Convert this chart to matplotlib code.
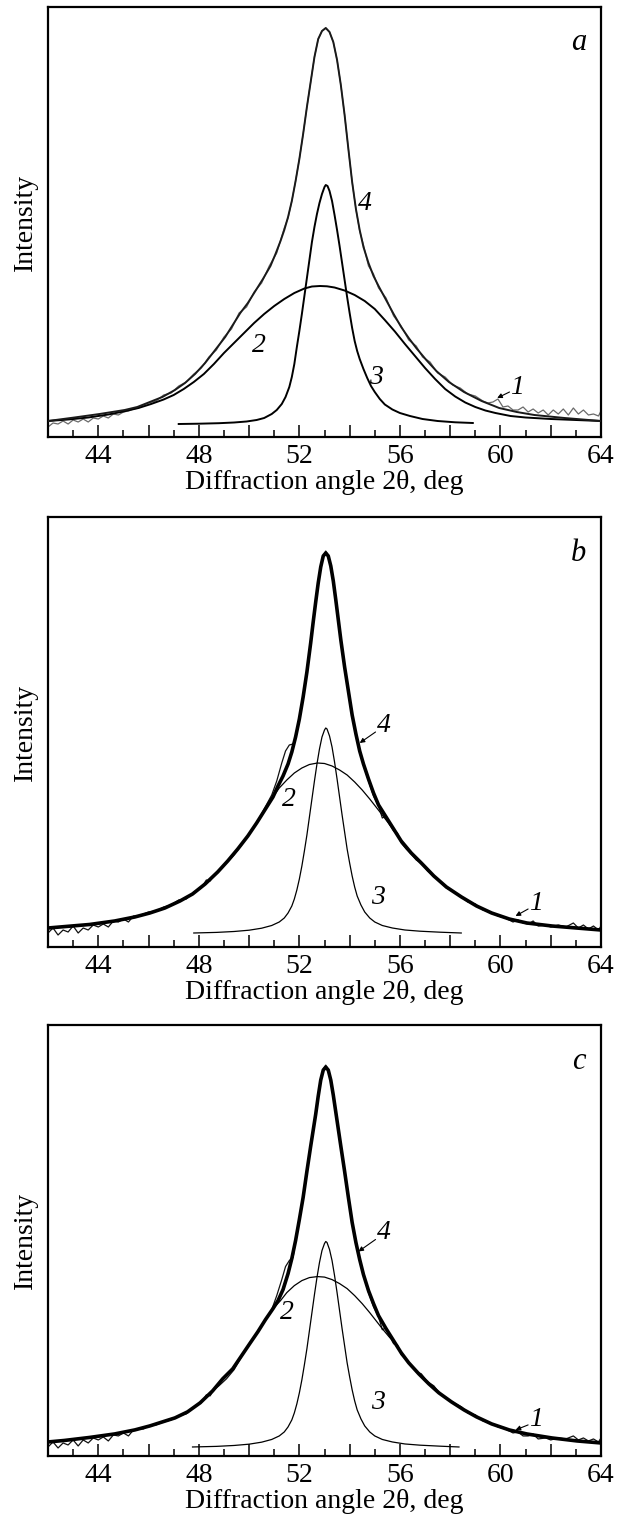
import matplotlib
matplotlib.use("Agg")
import matplotlib.pyplot as plt
from matplotlib.ticker import MultipleLocator, FuncFormatter

plt.rcParams['font.family'] = ['Liberation Serif', 'DejaVu Serif']

# ---------------- Panel a ----------------
a_x4 = [42.0,43.05,44.05,45.05,45.55,46.05,46.55,47.05,47.45,47.85,48.25,48.65,49.05,49.35,49.65,49.95,
        50.25,50.55,50.85,51.05,51.25,51.4,51.55,51.7,51.85,52.0,52.15,52.3,52.45,52.6,52.75,52.9,53.05,
        53.2,53.35,53.5,53.65,53.8,53.95,54.1,54.25,54.4,54.55,54.75,54.95,55.15,55.45,55.75,56.05,56.35,
        56.65,57.05,57.45,57.95,58.55,59.25,59.95,60.65,61.35,62.55,64.0]
a_y4 = [16,19.5,23,27,30,35,40,47,54,63,74,87,100,112,124,134,
        146,158,171,183,196,207,220,236,256,278,303,330,355,380,398,406,409,
        405,395,377,352,322,288,255,228,207,190,174,161,151,137,123,110,99,
        89,77,66,55,45,36,29,25,22,19,16]

a_x1 = [42.0,42.2,42.4,42.6,42.8,43.0,43.2,43.4,43.6,43.8,44.0,44.2,44.4,44.6,44.8,45.0,45.2,45.4,45.6,45.8,
        46.0,46.3,46.6,46.9,47.2,47.5,47.8,48.1,48.4,48.7,49.0,49.3,49.6,49.9,50.2,50.5,50.8,51.1,51.4,51.55,
        51.7,51.85,52.0,52.15,52.3,52.45,52.6,52.75,52.9,53.05,53.2,53.35,53.5,53.65,53.8,53.95,54.1,54.25,
        54.4,54.55,54.75,54.95,55.15,55.45,55.75,56.05,56.35,56.65,56.9,57.2,57.5,57.8,58.1,58.4,58.7,59.0,
        59.3,59.5,59.7,59.9,60.1,60.3,60.5,60.7,60.9,61.1,61.3,61.5,61.7,61.9,62.1,62.3,62.5,62.7,62.9,63.1,
        63.3,63.5,63.7,63.9,64.0]
a_y1 = [10,14,13,16,13,17,15,18,15,19,18,21,19,23,22,25,26,28,29,32,
        34,36,42,44,51,55,63,69,80,87,100,108,124,130,145,154,171,184,209,219,
        236,256,278,303,330,355,380,398,406,409,405,395,377,352,322,288,255,228,
        206,192,171,163,149,139,121,111,97,91,80,75,64,60,52,49,43,41,
        36,34,35,38,30,31,27,27,30,25,28,24,27,22,27,23,28,22,29,23,
        27,22,23,21,26]

a_x2 = [42.0,42.8,43.6,44.4,45.0,45.6,46.1,46.6,47.0,47.4,47.8,48.2,48.6,49.0,49.4,49.8,50.2,50.6,51.0,
        51.4,51.8,52.2,52.5,52.82,53.1,53.4,53.8,54.2,54.6,55.0,55.4,55.8,56.2,56.6,57.0,57.4,57.8,58.2,
        58.6,59.0,59.4,59.8,60.4,61.0,62.0,63.0,64.0]
a_y2 = [16,17.5,19.5,22.5,25.5,29,33,37.5,42,48,55,63,73,84,94,104,114,123,131,
        138,144,148.5,150.5,151,150.7,149.5,146.5,142,136,128,117,105.5,93,81,69,58,48,40.5,
        34.5,30,26.5,24,21,19.5,18,17,16]

a_x3 = [47.2,48.0,48.8,49.4,49.9,50.3,50.6,50.9,51.1,51.3,51.45,51.6,51.7,51.8,51.9,52.0,52.1,52.2,52.3,
        52.4,52.5,52.6,52.7,52.8,52.9,53.0,53.05,53.12,53.2,53.3,53.4,53.5,53.6,53.7,53.8,53.9,54.0,54.1,
        54.2,54.3,54.4,54.55,54.7,54.85,55.0,55.2,55.4,55.7,56.0,56.4,56.9,57.5,58.2,58.9]
a_y3 = [13,13.3,13.8,14.5,15.5,17,19,23,27,33,40,50,60,73,90,106,123,141,159,
        177,195,210,223,234,243,250,252,251,246,236,222,207,191,174,157,140,124,109,
        96,86,78,68,59,51,45,38,32.5,27.5,24,21,18,16,14.7,14]

# ---------------- Panel b ----------------
b_x4 = [42.0,43.65,44.65,45.45,46.05,46.65,47.25,47.75,48.25,48.75,49.15,49.55,49.95,50.3,50.65,50.95,
        51.15,51.35,51.55,51.7,51.85,52.0,52.15,52.3,52.45,52.55,52.65,52.75,52.85,52.95,53.05,
        53.15,53.25,53.35,53.45,53.55,53.65,53.8,53.95,54.1,54.25,54.4,54.55,54.75,54.95,55.15,55.45,
        55.75,56.05,56.45,56.85,57.35,57.85,58.45,59.05,59.65,60.35,61.05,62.05,64.0]
b_y4 = [19,22.5,26,30,34,39,46,53,63,75,86,98,111,124,138,150,
        161,171,183,195,210,228,250,275,304,325,345,364,380,391,394,
        391,381,366,347,327,307,280,256,232,213,196,183,168,154,142,130,
        118,106,94,84,71,60,50,41,34,28,24,21,17]

b_x1 = [42.0,42.2,42.4,42.6,42.8,43.0,43.2,43.4,43.6,43.8,44.0,44.2,44.4,44.6,44.8,45.0,45.2,45.4,45.6,45.8,
        46.0,46.3,46.6,46.9,47.2,47.5,47.8,48.1,48.3,48.45,48.6,48.8,49.1,49.4,49.7,50.0,50.3,50.6,50.9,51.1,
        51.3,51.45,51.6,51.75,51.85,52.0,52.15,52.3,52.45,52.55,52.65,52.75,52.85,52.95,53.05,53.15,53.25,
        53.35,53.45,53.55,53.65,53.8,53.95,54.1,54.25,54.4,54.55,54.75,54.95,55.15,55.3,55.45,55.6,55.75,
        55.9,56.05,56.25,56.45,56.65,56.85,57.1,57.35,57.6,57.85,58.15,58.45,58.7,59.0,59.3,59.6,59.9,60.2,
        60.5,60.7,60.9,61.1,61.3,61.5,61.8,62.0,62.3,62.6,62.9,63.1,63.3,63.5,63.7,63.9,64.0]
b_y1 = [14,19,12,17,15,21,14,19,17,22,20,23,20,26,25,28,25,31,31,33,
        35,36,40,42,47,48,55,59,67,66,72,77,84,92,102,113,124,138,152,166,
        184,196,202,203,210,228,250,275,304,325,345,364,380,391,396,391,381,
        366,347,327,307,280,256,232,213,196,183,166,151,141,129,131,122,116,
        114,104,98,93,87,84,76,71,65,59,55,50,45,43,37,35,31,29,
        25,27,24,23,26,21,22,20,22,20,24,19,22,18,21,17,21]

b_x2 = [42.0,43.65,44.65,45.45,46.05,46.65,47.25,47.75,48.25,48.75,49.15,49.55,49.95,50.3,50.65,50.95,
        51.2,51.5,51.8,52.1,52.4,52.72,53.0,53.3,53.6,53.9,54.2,54.5,54.8,55.05,55.3,55.6,
        55.75,56.05,56.45,56.85,57.35,57.85,58.45,59.05,59.65,60.35,61.05,62.05,64.0]
b_y2 = [19,22.5,26,30,34,39,46,53,63,75,86,98,111,124,138,150,
        159,167,174,179,182.5,184,183.5,181,177,172,165,157,148,140,132,122,
        118,106,94,84,71,60,50,41,34,28,24,21,17]

b_x3 = [47.8,48.7,49.4,50.0,50.5,50.9,51.2,51.4,51.55,51.7,51.8,51.9,52.0,52.1,52.2,52.3,52.4,52.5,52.6,
        52.7,52.8,52.9,53.0,53.05,53.1,53.2,53.3,53.4,53.5,53.6,53.7,53.8,53.9,54.0,54.1,54.2,54.3,54.45,
        54.6,54.8,55.0,55.3,55.7,56.2,56.8,57.6,58.44]
b_y3 = [14,14.6,15.5,16.8,18.8,21.5,25,29,34,41,48,57,68,81,96,112,130,148,166,
        183,198,210,217,219,218,211,200,185,168,150,132,115,98,84,71,60,51,42,
        35,29,25,21.5,19,17,15.8,14.8,14]

# ---------------- Panel c ----------------
c_x4 = [42.0,42.65,43.65,44.65,45.45,46.05,46.55,47.05,47.55,48.05,48.55,48.95,49.35,49.7,50.05,50.35,
        50.65,50.95,51.15,51.35,51.55,51.7,51.85,52.0,52.15,52.3,52.45,52.55,52.65,52.75,52.85,52.95,53.05,
        53.15,53.25,53.35,53.45,53.55,53.65,53.8,53.95,54.1,54.25,54.4,54.55,54.75,54.95,55.15,55.45,55.75,
        56.05,56.35,56.75,57.15,57.55,58.05,58.55,59.05,59.65,60.35,61.05,62.05,63.05,64.0]
c_y4 = [14,15.5,18.5,22,26,30,34,38,44,53,65,77,87,100,113,124,
        136,147,155,166,182,197,215,236,258,284,309,325,341,359,375,385,388,
        385,375,360,343,326,309,284,258,233,213,196,181,165,152,140,127,115,
        103,93,82,72,63,54,46,39,32,26,22,18,15,13]

c_x1 = [42.0,42.2,42.4,42.6,42.8,43.0,43.2,43.4,43.6,43.8,44.0,44.2,44.4,44.6,44.8,45.0,45.2,45.4,45.6,45.8,
        46.0,46.3,46.6,46.9,47.2,47.5,47.8,48.1,48.3,48.45,48.6,48.8,49.1,49.4,49.7,50.0,50.3,50.6,50.9,51.1,
        51.3,51.45,51.6,51.75,51.85,52.0,52.15,52.3,52.45,52.55,52.65,52.75,52.85,52.95,53.05,53.15,53.25,
        53.35,53.45,53.55,53.65,53.8,53.95,54.1,54.25,54.4,54.55,54.75,54.95,55.15,55.3,55.45,55.6,55.75,
        55.9,56.05,56.25,56.45,56.65,56.85,57.1,57.35,57.6,57.85,58.15,58.45,58.7,59.0,59.3,59.6,59.9,60.2,
        60.5,60.7,60.9,61.1,61.3,61.5,61.8,62.0,62.3,62.6,62.9,63.1,63.3,63.5,63.7,63.9,64.0]
c_y1 = [9,14,8,13,11,16,10,16,13,18,16,19,15,21,20,23,20,26,27,27,
        30,31,34,36,40,42,49,53,61,60,66,70,77,86,99,112,122,134,146,160,
        176,189,195,198,215,236,258,284,309,325,341,359,375,386,390,385,375,
        360,343,326,309,284,258,233,213,196,181,163,149,139,126,128,119,112,
        111,101,96,90,84,82,74,70,62,58,53,49,43,41,35,33,29,27,
        23,24,20,20,22,17,18,16,18,17,20,16,18,15,17,14,18]

c_x2 = [42.0,42.65,43.65,44.65,45.45,46.05,46.55,47.05,47.55,48.05,48.55,48.95,49.35,49.7,50.05,50.35,
        50.65,50.95,51.25,51.5,51.8,52.1,52.4,52.72,53.0,53.3,53.6,53.9,54.2,54.5,54.8,55.05,55.3,55.6,
        55.75,56.05,56.35,56.75,57.15,57.55,58.05,58.55,59.05,59.65,60.35,61.05,62.05,63.05,64.0]
c_y2 = [14,15.5,18.5,22,26,30,34,38,44,53,65,77,87,100,113,124,
        136,147,155,163,170,175,178,179,178.5,176,172,167,160,152,143,135,127,118,
        115,103,93,82,72,63,54,46,39,32,26,22,18,15,13]

c_x3 = [47.75,48.7,49.4,50.0,50.5,50.9,51.2,51.4,51.55,51.7,51.8,51.9,52.0,52.1,52.2,52.3,52.4,52.5,52.6,
        52.7,52.8,52.9,53.0,53.05,53.1,53.2,53.3,53.4,53.5,53.6,53.7,53.8,53.9,54.0,54.1,54.2,54.3,54.45,
        54.6,54.8,55.0,55.3,55.7,56.2,56.8,57.6,58.35]
c_y3 = [9,9.6,10.5,11.8,13.8,16.5,20,24,29,36,43,52,63,76,91,107,125,143,161,
        178,193,205,212,214,213,206,195,180,163,145,127,110,93,79,66,55,46,37,
        30,24,20,16.5,14,12,10.8,9.8,9]

# tick labels / axis text
x_tick_step_label = 4
xlabel = "Diffraction angle 2\u03b8, deg"
ylabel = "Intensity"
panel_letters = ["a", "b", "c"]

W, H = 623, 1521
fig = plt.figure(figsize=(W / 100, H / 100), dpi=100)

# axes boxes in pixels: (left, top, right, bottom)
boxes = [(48, 7, 601, 437), (48, 517, 601, 947), (48, 1025, 601, 1456)]

panels = [
    dict(x1=a_x1, y1=a_y1, x2=a_x2, y2=a_y2, x3=a_x3, y3=a_y3, x4=a_x4, y4=a_y4,
         c1='#6a6a6a', lw1=0.9, lw2=1.4, lw3=1.4, lw4=1.4, c4='#1a1a1a',
         l4=(54.6, 234, None), l2=(50.4, 92), l3=(55.05, 60), l1=(60.66, 50, (59.87, 39))),
    dict(x1=b_x1, y1=b_y1, x2=b_x2, y2=b_y2, x3=b_x3, y3=b_y3, x4=b_x4, y4=b_y4,
         c1='#111111', lw1=0.9, lw2=0.9, lw3=0.9, lw4=2.6, c4='black',
         l4=(55.38, 222, (54.4, 204)), l2=(51.59, 147), l3=(55.11, 50), l1=(61.4, 43, (60.6, 31))),
    dict(x1=c_x1, y1=c_y1, x2=c_x2, y2=c_y2, x3=c_x3, y3=c_y3, x4=c_x4, y4=c_y4,
         c1='#111111', lw1=0.9, lw2=0.9, lw3=0.9, lw4=2.6, c4='black',
         l4=(55.38, 223, (54.35, 204)), l2=(51.52, 143), l3=(55.11, 53), l1=(61.4, 36, (60.6, 26))),
]

FS = 20

def fmt(v, pos):
    iv = int(round(v))
    return str(iv) if iv % x_tick_step_label == 0 and abs(v - iv) < 1e-6 else ""

for (l, t, r, b), p, letter in zip(boxes, panels, panel_letters):
    ax = fig.add_axes([l / W, 1 - b / H, (r - l) / W, (b - t) / H])
    ax.plot(p['x1'], p['y1'], color=p['c1'], lw=p['lw1'], zorder=2)
    ax.plot(p['x2'], p['y2'], color='black', lw=p['lw2'], zorder=3)
    ax.plot(p['x3'], p['y3'], color='black', lw=p['lw3'], zorder=3)
    ax.plot(p['x4'], p['y4'], color=p['c4'], lw=p['lw4'], zorder=4,
            solid_joinstyle='round')
    ax.set_xlim(42, 64)
    ax.set_ylim(0, 430)
    ax.xaxis.set_major_locator(MultipleLocator(2))
    ax.xaxis.set_minor_locator(MultipleLocator(1))
    ax.xaxis.set_major_formatter(FuncFormatter(fmt))
    ax.tick_params(axis='x', which='major', direction='in', length=9, width=1.1,
                   labelsize=FS, pad=5, top=False)
    ax.tick_params(axis='x', which='minor', direction='in', length=5, width=1.1, top=False)
    ax.set_yticks([])
    for s in ax.spines.values():
        s.set_linewidth(1.6)
    ax.set_xlabel(xlabel, fontsize=FS, labelpad=1)
    ax.set_ylabel(ylabel, fontsize=FS, labelpad=7)

    ax.text(63.1, 394, letter, fontsize=22, style='italic', ha='center', va='center')
    tx, ty, arr = p['l4']
    ax.text(tx, ty, "4", fontsize=FS, style='italic', ha='center', va='center')
    if arr is not None:
        ax.annotate('', xy=arr, xytext=(tx - 0.35, ty - 7),
                    arrowprops=dict(arrowstyle='-|>', color='black', lw=0.8, mutation_scale=7,
                                    shrinkA=0, shrinkB=0))
    ax.text(p['l2'][0], p['l2'][1], "2", fontsize=FS, style='italic', ha='center', va='center')
    ax.text(p['l3'][0], p['l3'][1], "3", fontsize=FS, style='italic', ha='center', va='center')
    tx, ty, arr = p['l1']
    ax.text(tx, ty, "1", fontsize=FS, style='italic', ha='center', va='center')
    ax.annotate('', xy=arr, xytext=(tx - 0.3, ty - 5),
                arrowprops=dict(arrowstyle='-|>', color='black', lw=0.8, mutation_scale=7,
                                shrinkA=0, shrinkB=0))

fig.savefig("out.png", dpi=100)
